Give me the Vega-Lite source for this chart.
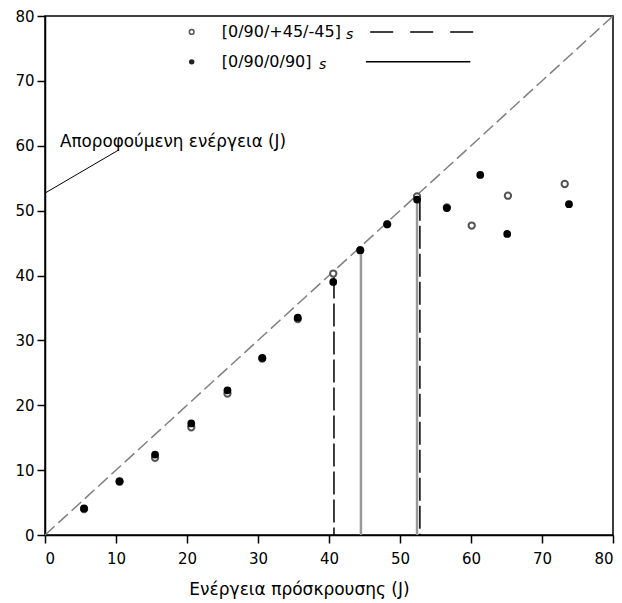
{
  "$schema": "https://vega.github.io/schema/vega-lite/v6.json",
  "autosize": "none",
  "width": 568,
  "height": 519,
  "padding": {"left": 45, "top": 16, "right": 9, "bottom": 68},
  "background": "white",
  "config": {
    "view": {"stroke": "black", "strokeWidth": 1.5},
    "font": "DejaVu Sans",
    "axis": {
      "grid": false,
      "domainColor": "black",
      "domainWidth": 1.5,
      "tickColor": "black",
      "tickWidth": 1.5,
      "tickSize": 8,
      "labelFont": "DejaVu Sans",
      "labelFontSize": 15,
      "labelColor": "black",
      "titleFont": "DejaVu Sans",
      "titleFontWeight": "normal",
      "titleColor": "black"
    }
  },
  "datasets": {
    "pts": [
      {"e": 5.5, "a": 4.0, "lam": "open"},
      {"e": 10.5, "a": 8.2, "lam": "open"},
      {"e": 15.5, "a": 11.9, "lam": "open"},
      {"e": 20.6, "a": 16.6, "lam": "open"},
      {"e": 25.7, "a": 21.8, "lam": "open"},
      {"e": 30.6, "a": 27.2, "lam": "open"},
      {"e": 35.6, "a": 33.3, "lam": "open"},
      {"e": 40.6, "a": 40.3, "lam": "open"},
      {"e": 44.4, "a": 43.9, "lam": "open"},
      {"e": 48.2, "a": 47.9, "lam": "open"},
      {"e": 52.4, "a": 52.2, "lam": "open"},
      {"e": 56.6, "a": 50.5, "lam": "open"},
      {"e": 60.1, "a": 47.7, "lam": "open"},
      {"e": 65.2, "a": 52.3, "lam": "open"},
      {"e": 73.2, "a": 54.1, "lam": "open"},
      {"e": 5.5, "a": 4.1, "lam": "filled"},
      {"e": 10.5, "a": 8.3, "lam": "filled"},
      {"e": 15.5, "a": 12.4, "lam": "filled"},
      {"e": 20.6, "a": 17.2, "lam": "filled"},
      {"e": 25.7, "a": 22.3, "lam": "filled"},
      {"e": 30.6, "a": 27.3, "lam": "filled"},
      {"e": 35.6, "a": 33.5, "lam": "filled"},
      {"e": 40.6, "a": 39.0, "lam": "filled"},
      {"e": 44.4, "a": 43.9, "lam": "filled"},
      {"e": 48.2, "a": 47.9, "lam": "filled"},
      {"e": 52.4, "a": 51.7, "lam": "filled"},
      {"e": 56.6, "a": 50.4, "lam": "filled"},
      {"e": 61.3, "a": 55.5, "lam": "filled"},
      {"e": 65.1, "a": 46.4, "lam": "filled"},
      {"e": 73.8, "a": 51.0, "lam": "filled"}
    ],
    "diag": [{"e": 0, "a": 0}, {"e": 80, "a": 80}],
    "vdash": [{"e": 40.7, "top": 40.0}, {"e": 52.8, "top": 52.0}],
    "vsolid": [{"e": 44.5, "top": 43.9}, {"e": 52.4, "top": 52.0}],
    "annotLine": [{"e": 0, "a": 52.7}, {"e": 10.3, "a": 59.3}],
    "annotText": [{"e": 2.1, "a": 60.6, "label": "Αποροφούμενη ενέργεια (J)"}],
    "legSym": [
      {"e": 20.66, "a": 77.55, "lam": "open"},
      {"e": 20.66, "a": 72.93, "lam": "filled"}
    ],
    "legText": [
      {"e": 24.9, "a": 77.55, "label": "[0/90/+45/-45]"},
      {"e": 24.9, "a": 72.93, "label": "[0/90/0/90]"}
    ],
    "legSub": [
      {"e": 42.4, "a": 77.1, "label": "s"},
      {"e": 38.6, "a": 72.5, "label": "s"}
    ],
    "legDash": [{"e": 45.8, "a": 77.55}, {"e": 61.0, "a": 77.55}],
    "legSolid": [{"e": 45.2, "a": 72.93}, {"e": 59.9, "a": 72.93}]
  },
  "encoding": {
    "x": {
      "field": "e", "type": "quantitative",
      "scale": {"domain": [0, 80], "nice": false},
      "axis": {
        "values": [0, 10, 20, 30, 40, 50, 60, 70, 80],
        "labelPadding": 8,
        "title": "Ενέργεια πρόσκρουσης (J)",
        "titleFontSize": 17,
        "titleX": 254,
        "titleY": 46,
        "titleAnchor": null,
        "titleAlign": "center",
        "titleBaseline": "top"
      }
    },
    "y": {
      "field": "a", "type": "quantitative",
      "scale": {"domain": [0, 80], "nice": false},
      "axis": {"values": [0, 10, 20, 30, 40, 50, 60, 70, 80], "labelPadding": 3, "title": null}
    }
  },
  "layer": [
    {
      "data": {"name": "diag"},
      "mark": {"type": "line", "color": "#808080", "strokeWidth": 1.5, "strokeDash": [13, 5]}
    },
    {
      "data": {"name": "vsolid"},
      "mark": {"type": "rule", "color": "#999999", "strokeWidth": 2.5},
      "encoding": {"y": {"field": "top", "type": "quantitative"}, "y2": {"datum": 0}}
    },
    {
      "data": {"name": "vdash"},
      "mark": {"type": "rule", "color": "black", "strokeWidth": 1.5, "strokeDash": [23, 5]},
      "encoding": {"y": {"field": "top", "type": "quantitative"}, "y2": {"datum": 0}}
    },
    {
      "data": {"name": "annotLine"},
      "mark": {"type": "line", "color": "black", "strokeWidth": 1}
    },
    {
      "data": {"name": "annotText"},
      "mark": {"type": "text", "align": "left", "baseline": "middle", "fontSize": 16.8, "color": "black"},
      "encoding": {"text": {"field": "label"}}
    },
    {
      "data": {"name": "pts"},
      "transform": [{"filter": "datum.lam === 'open'"}],
      "mark": {"type": "point", "shape": "circle", "filled": false, "fill": "white", "stroke": "#555555", "strokeWidth": 2, "size": 40, "opacity": 1}
    },
    {
      "data": {"name": "pts"},
      "transform": [{"filter": "datum.lam === 'filled'"}],
      "mark": {"type": "circle", "color": "black", "size": 60, "opacity": 1}
    },
    {
      "data": {"name": "legSym"},
      "transform": [{"filter": "datum.lam === 'open'"}],
      "mark": {"type": "point", "shape": "circle", "filled": false, "fill": "white", "stroke": "#555555", "strokeWidth": 1.5, "size": 22, "opacity": 1}
    },
    {
      "data": {"name": "legSym"},
      "transform": [{"filter": "datum.lam === 'filled'"}],
      "mark": {"type": "circle", "color": "#222222", "size": 30, "opacity": 1}
    },
    {
      "data": {"name": "legText"},
      "mark": {"type": "text", "align": "left", "baseline": "middle", "fontSize": 16, "color": "black"},
      "encoding": {"text": {"field": "label"}}
    },
    {
      "data": {"name": "legSub"},
      "mark": {"type": "text", "align": "left", "baseline": "middle", "fontSize": 14, "fontStyle": "italic", "color": "black"},
      "encoding": {"text": {"field": "label"}}
    },
    {
      "data": {"name": "legDash"},
      "mark": {"type": "line", "color": "black", "strokeWidth": 1.5, "strokeDash": [23, 17]}
    },
    {
      "data": {"name": "legSolid"},
      "mark": {"type": "line", "color": "black", "strokeWidth": 1.5}
    }
  ]
}
